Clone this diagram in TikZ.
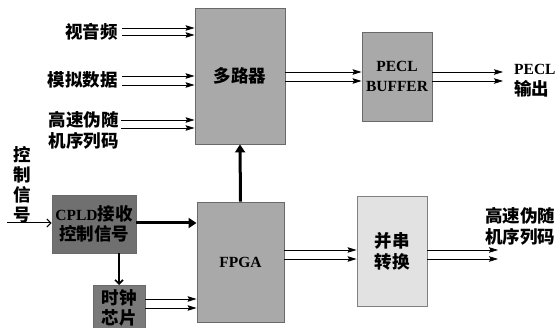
\documentclass[tikz,border=0pt]{standalone}
\usepackage{fontspec}
\setmainfont{Liberation Serif}
\newfontfamily\cjk{Noto Sans CJK SC}
\newcommand{\cjkb}{\cjk\fontsize{17.5}{21}\selectfont\bfseries}
\usetikzlibrary{arrows.meta}
\definecolor{boxgray}{HTML}{A9A9A9}
\definecolor{darkgray2}{HTML}{707070}
\definecolor{clkgray}{HTML}{7A7A7A}
\definecolor{lightbox}{HTML}{E2E2E2}
\definecolor{edgegray}{HTML}{6A6A6A}
\tikzset{
  blk/.style={draw=edgegray, line width=0.9pt, inner sep=0pt, align=center, font=\fontsize{15.5}{20}\selectfont\bfseries},
  cblk/.style={blk, font=\cjkb},
  lbl/.style={inner sep=0pt, align=left, font=\cjkb},
  arr/.style={line width=0.7pt, -{Stealth[length=9pt,width=5.5pt,inset=1.5pt]}},
  thick arr/.style={line width=3pt, -{Triangle[length=8pt,width=10pt]}},
  med arr/.style={line width=2pt, -{Straight Barb[length=4pt,width=8pt,line width=1.6pt]}},
  in arr/.style={line width=1pt, -{Straight Barb[length=4pt,width=8pt,line width=1pt]}}
}
\begin{document}
\begin{tikzpicture}[x=1pt,y=-1pt]
\clip (0,0) rectangle (556,328);
\fill[white] (0,0) rectangle (556,328);
% boxes
\node[cblk, fill=boxgray, minimum width=90pt, minimum height=136pt] (mux) at (240,76) {多路器};
\node[blk, fill=boxgray, minimum width=70pt, minimum height=89pt] (buf) at (397,76.5) {PECL\\BUFFER};
\node[blk, fill=boxgray, minimum width=87pt, minimum height=120pt] (fpga) at (240.5,262) {FPGA};
\node[blk, fill=darkgray2, minimum width=84pt, minimum height=58pt] (cpld) at (94,224) {CPLD{\cjkb 接收}\\{\cjkb 控制信号}};
\node[draw=edgegray, line width=0.9pt, fill=clkgray, minimum width=52pt, minimum height=50pt, anchor=north] (clk) at (119,285) {};
\node[lbl, align=center, font=\cjk\fontsize{17.5}{20}\selectfont\bfseries] (clkt) at (119,308) {时钟\\芯片};
\node[cblk, fill=lightbox, draw=gray, minimum width=70pt, minimum height=110pt] (ps) at (392,251) {并串\\转换};
% labels
\node[lbl, anchor=east] (vid) at (118,32) {视音频};
\node[lbl, anchor=east] (ana) at (118,80) {模拟数据};
\node[lbl, anchor=east] (prbs) at (119,130) {高速伪随\\机序列码};
\node[lbl, align=center, font=\cjk\fontsize{17.5}{20}\selectfont\bfseries] (ctrl) at (22,185) {控\\制\\信\\号};
\node[inner sep=0pt, align=left, font=\fontsize{15.5}{21}\selectfont\bfseries, anchor=west] (pout) at (514,81) {PECL\\{\cjkb 输出}};
\node[lbl, anchor=west] (pout2) at (485,226) {高速伪随\\机序列码};
\coordinate (cin) at (7,223);
% inputs to mux
\draw[arr] ([xshift=4pt]vid.east |- 0,28) -- (mux.west |- 0,28);
\draw[arr] ([xshift=4pt]vid.east |- 0,35) -- (mux.west |- 0,35);
\draw[arr] ([xshift=4pt]ana.east |- 0,76) -- (mux.west |- 0,76);
\draw[arr] ([xshift=4pt]ana.east |- 0,85) -- (mux.west |- 0,85);
\draw[arr] ([xshift=2pt]prbs.east |- 0,120) -- (mux.west |- 0,120);
\draw[arr] ([xshift=2pt]prbs.east |- 0,128) -- (mux.west |- 0,128);
% mux to buffer to output
\draw[arr] (mux.east |- 0,72) -- (buf.west |- 0,72);
\draw[arr] (mux.east |- 0,81) -- (buf.west |- 0,81);
\draw[arr] (buf.east |- 0,72) -- ([xshift=-11pt]pout.west |- 0,72);
\draw[arr] (buf.east |- 0,81) -- ([xshift=-11pt]pout.west |- 0,81);
% fpga to ps to output
\draw[arr] (fpga.east |- 0,250) -- (ps.west |- 0,250);
\draw[arr] (fpga.east |- 0,259) -- (ps.west |- 0,259);
\draw[arr] (ps.east |- 0,250) -- ([xshift=13pt]pout2.west |- 0,250);
\draw[arr] (ps.east |- 0,259) -- ([xshift=13pt]pout2.west |- 0,259);
% control path
\draw[in arr] (cin) -- (cpld.west |- cin);
\draw[thick arr] (cpld.east |- 0,223) -- (fpga.west |- 0,223);
\draw[thick arr] (fpga.north) -- (mux.south);
\draw[med arr] (cpld.south -| clk.north) -- (clk.north);
\draw[arr] (clk.east |- 0,299) -- (fpga.west |- 0,299);
\draw[arr] (clk.east |- 0,308) -- (fpga.west |- 0,308);
\end{tikzpicture}
\end{document}
